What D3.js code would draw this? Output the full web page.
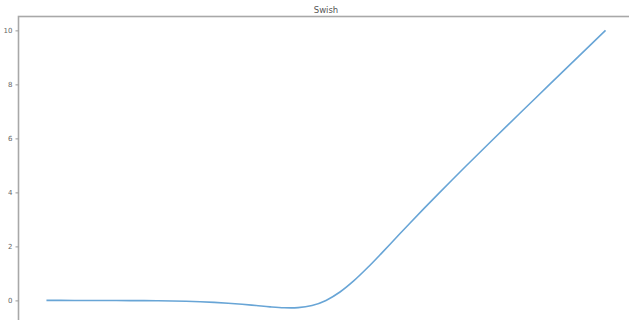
<!DOCTYPE html>
<html>
<head>
<meta charset="utf-8">
<script src="https://cdn.jsdelivr.net/npm/d3@7"></script>
<style>
  html, body { margin: 0; padding: 0; background: #fff; }
  svg { display: block; }
  text { font-family: "DejaVu Sans", sans-serif; }
</style>
</head>
<body>
<svg id="chart" width="629" height="320"></svg>
<script>
// Swish activation sampled over [-10, 10]
const xValues = [-10, -9.5, -9, -8.5, -8, -7.5, -7, -6.5, -6, -5.5, -5, -4.5, -4, -3.5, -3, -2.5, -2, -1.5, -1.25, -1, -0.5, 0, 0.5, 1, 1.5, 2, 2.5, 3, 3.5, 4, 4.5, 5, 5.5, 6, 6.5, 7, 7.5, 8, 8.5, 9, 9.5, 10];
const yValues = [-0.0005, -0.0007, -0.0011, -0.0017, -0.0027, -0.0042, -0.0064, -0.0098, -0.0148, -0.0224, -0.0335, -0.0494, -0.0719, -0.1026, -0.1423, -0.1897, -0.2384, -0.2736, -0.2784, -0.2689, -0.1888, 0, 0.3112, 0.7311, 1.2264, 1.7616, 2.3104, 2.8577, 3.3974, 3.9281, 4.4506, 4.9665, 5.4776, 5.9852, 6.4902, 6.9936, 7.4959, 7.9973, 8.4983, 8.9989, 9.4993, 9.9995];
const yTicks = [0, 2, 4, 6, 8, 10];
const title = "Swish";

const svg = d3.select("#chart");
const axLeft = 18.5, axTop = 16.5, axRight = 633.5, axBottom = 321.8;

const xPad = (d3.max(xValues) - d3.min(xValues)) * 0.05;
const yMin = d3.min(yValues), yMax = d3.max(yValues);
const yPad = (yMax - yMin) * 0.05;

const x = d3.scaleLinear()
  .domain([d3.min(xValues) - xPad, d3.max(xValues) + xPad])
  .range([axLeft, axRight]);
const y = d3.scaleLinear()
  .domain([yMin - yPad, yMax + yPad])
  .range([axBottom, axTop]);

// frame
svg.append("rect")
  .attr("x", axLeft).attr("y", axTop)
  .attr("width", axRight - axLeft).attr("height", axBottom - axTop)
  .attr("fill", "none").attr("stroke", "#a8a8a8").attr("stroke-width", 1.6);

// y axis
const yAxis = svg.append("g")
  .attr("transform", `translate(${axLeft},0)`)
  .call(d3.axisLeft(y).tickValues(yTicks).tickSize(3).tickPadding(3).tickFormat(d3.format("d")));
yAxis.select(".domain").remove();
yAxis.selectAll("line").attr("stroke", "#999");
yAxis.selectAll("text").attr("fill", "#666").style("font-size", "7px");

// curve
const pts = xValues.map((v, i) => [v, yValues[i]]);
svg.append("path")
  .datum(pts)
  .attr("fill", "none")
  .attr("stroke", "#68a5d6")
  .attr("stroke-width", 1.6)
  .attr("d", d3.line().x(d => x(d[0])).y(d => y(d[1])).curve(d3.curveMonotoneX));

// title
svg.append("text")
  .attr("x", (axLeft + axRight) / 2)
  .attr("y", 12.7)
  .attr("text-anchor", "middle")
  .attr("fill", "#555")
  .style("font-size", "8.5px")
  .text(title);
</script>
</body>
</html>
